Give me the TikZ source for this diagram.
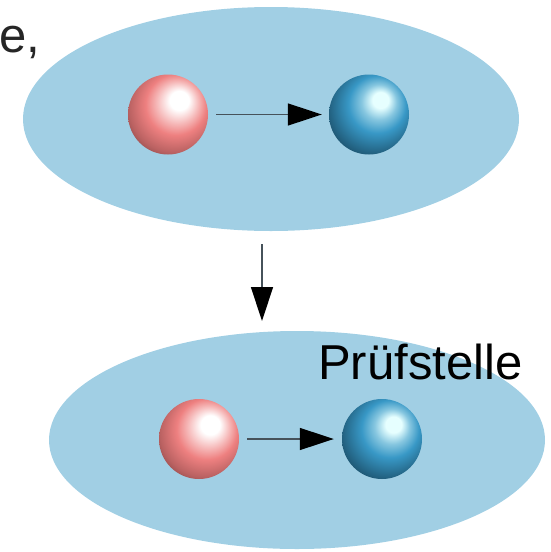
\documentclass[tikz,border=0pt]{standalone}
\usepackage{fontspec}
\setmainfont{Liberation Sans}
\usetikzlibrary{shapes.geometric,arrows.meta}
\definecolor{pool}{HTML}{A1CFE4}
\definecolor{redmain}{HTML}{EE8080}
\definecolor{reddark}{HTML}{5A2A2A}
\definecolor{bluehi}{HTML}{E6FFFF}
\definecolor{bluemain}{HTML}{3898C6}
\definecolor{bluedark}{HTML}{0F3042}
\definecolor{linegray}{HTML}{46525A}
\pgfdeclareradialshading{redball}{\pgfpoint{8bp}{10bp}}{%
  color(0bp)=(white); color(6bp)=(white); color(13bp)=(white!45!redmain);
  color(19bp)=(redmain); color(28bp)=(redmain!65!reddark); color(39bp)=(reddark); color(50bp)=(reddark)}
\pgfdeclareradialshading{blueball}{\pgfpoint{8bp}{10bp}}{%
  color(0bp)=(bluehi); color(5bp)=(bluehi); color(11bp)=(bluehi!45!bluemain);
  color(18bp)=(bluemain); color(27bp)=(bluemain!55!bluedark); color(38bp)=(bluedark); color(50bp)=(bluedark)}
\tikzset{
  poolshape/.style={ellipse, fill=pool, draw=none, inner sep=0pt},
  redsphere/.style={circle, minimum size=80pt, inner sep=0pt, shading=redball},
  bluesphere/.style={circle, minimum size=80pt, inner sep=0pt, shading=blueball},
  flow/.style={draw=linegray, line width=1.4pt,
    -{Triangle[length=34pt,width=22pt,fill=black,color=black]}},
  label/.style={inner sep=0pt, font=\fontsize{49}{52}\selectfont}
}
\begin{document}
\begin{tikzpicture}[x=1pt,y=-1pt]
\useasboundingbox (0,0) rectangle (550,552);
% pools
\node[poolshape, minimum width=496pt, minimum height=224pt] (poolA) at (271,119) {};
\node[poolshape, minimum width=496pt, minimum height=218pt] (poolB) at (297,440) {};
% texts
\node[label, anchor=base west, text=black!85] (etext) at (-1,52) {e,};
\node[label, anchor=base west, text=black] (pruef) at (318,379) {Prüfstelle};
% spheres
\node[redsphere] (r1) at (168,114.5) {};
\node[bluesphere] (b1) at (369,114.5) {};
\node[redsphere] (r2) at (199,439) {};
\node[bluesphere] (b2) at (382,439) {};
% arrows
\draw[flow, shorten <=8pt, shorten >=7pt] (r1) -- (b1);
\draw[flow, shorten <=8pt, shorten >=8pt] (r2) -- (b2);
\coordinate (vtop) at (262,244);
\coordinate (vbot) at (262,321);
\draw[flow] (vtop) -- (vbot);
\end{tikzpicture}
\end{document}
